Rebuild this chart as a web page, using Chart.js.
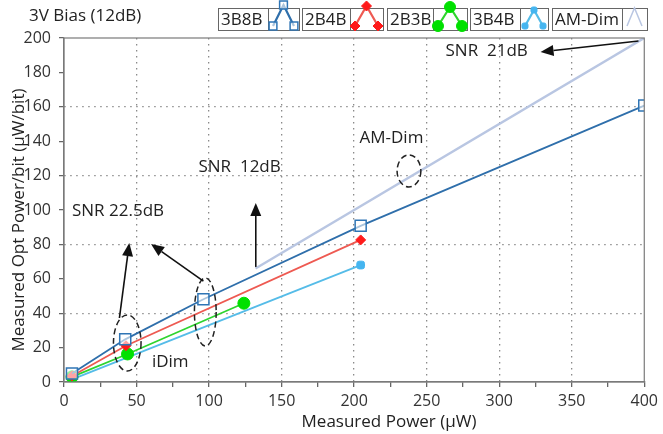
<!DOCTYPE html>
<html><head><meta charset="utf-8">
<script src="https://cdn.jsdelivr.net/npm/chart.js@4.4.0/dist/chart.umd.min.js"></script>
<style>html,body{margin:0;padding:0;background:#fff}#wrap{width:663px;height:434px;position:relative}</style>
</head><body><div id="wrap"><canvas id="c"></canvas></div>
<script>
// ---- data ----
const chartTitle = '3V Bias (12dB)';
const seriesNames = ['3B8B', '2B4B', '2B3B', '3B4B', 'AM-Dim'];
const x3B8B = [5.5, 42.2, 96.1, 204.5, 400];
const y3B8B = [5, 24.8, 48.1, 90.8, 160.7];
const x2B4B = [5.5, 42.7, 204.5];
const y2B4B = [3.5, 21.1, 82.6];
const x2B3B = [5.5, 43.8, 124];
const y2B3B = [3, 16.3, 45.8];
const x3B4B = [5.5, 204.5];
const y3B4B = [1.5, 68];
const xAMDim = [132, 400];
const yAMDim = [66, 200];
const xTicksLabelStep = 50;
const xTitle = 'Measured Power (μW)';
const yTitle = 'Measured Opt Power/bit (μW/bit)';
const annoTexts = [
  {t: 'SNR 22.5dB', x: 5.5, y: 99.4},
  {t: 'SNR  12dB', x: 92.7, y: 125},
  {t: 'AM-Dim', x: 203.7, y: 141.9},
  {t: 'SNR  21dB', x: 263, y: 192.4},
  {t: 'iDim', x: 60.6, y: 11.6}
];
const annoEllipses = [
  {x: 43.6, y: 22.7, rx: 9.5, ry: 16.3},
  {x: 97.4, y: 40.7, rx: 7.5, ry: 19.8},
  {x: 237.8, y: 122.7, rx: 8.2, ry: 9.3}
];
const annoArrows = [
  {x1: 38.2, y1: 37.2, x2: 45, y2: 80.8},
  {x1: 96.1, y1: 58.7, x2: 60, y2: 80.2},
  {x1: 132.2, y1: 66.9, x2: 132.2, y2: 104.1},
  {x1: 396, y1: 198.3, x2: 328.5, y2: 191.9}
];

const pts = (xs, ys) => xs.map((x, i) => ({x, y: ys[i]}));
const FONT = '"Open Sans", "Noto Sans", sans-serif';

const datasets = [
  {label: seriesNames[0], data: pts(x3B8B, y3B8B), borderColor: '#2f6fab', backgroundColor: '#ffffff',
   pointBorderColor: '#2f75b5', pointBackgroundColor: 'rgba(255,255,255,0.6)', pointStyle: 'rect', pointRadius: 7.8, pointBorderWidth: 1.5, borderWidth: 1.8},
  {label: seriesNames[1], data: pts(x2B4B, y2B4B), borderColor: '#ee5a52', backgroundColor: '#ff1a1a',
   pointBorderColor: '#ff1a1a', pointBackgroundColor: '#ff1a1a', pointStyle: 'rectRot', pointRadius: 5, pointBorderWidth: 1, borderWidth: 1.8},
  {label: seriesNames[2], data: pts(x2B3B, y2B3B), borderColor: '#2fd42f', backgroundColor: '#00e000',
   pointBorderColor: '#00e000', pointBackgroundColor: '#00e000', pointStyle: 'circle', pointRadius: 6, pointBorderWidth: 1, borderWidth: 1.8},
  {label: seriesNames[3], data: pts(x3B4B, y3B4B), borderColor: '#55bce8', backgroundColor: '#45b5f0',
   pointBorderColor: '#45b5f0', pointBackgroundColor: '#45b5f0', pointStyle: 'rectRounded', pointRadius: 4.5, pointBorderWidth: 1, borderWidth: 1.8},
  {label: seriesNames[4], data: pts(xAMDim, yAMDim), borderColor: '#b9c6e2', backgroundColor: '#b9c6e2',
   pointRadius: 0, borderWidth: 2.5}
];

// legend layout (pixels): cell left, text width, icon width, icon apex y, marker radius
const legendCells = [
  {x: 218, tw: 50, iw: 31, ay: 5, mr: 5.5},
  {x: 302, tw: 48, iw: 33, ay: 6, mr: 5},
  {x: 387, tw: 46, iw: 34, ay: 7, mr: 5.5},
  {x: 470, tw: 50, iw: 28, ay: 10, mr: 3.5},
  {x: 552, tw: 70, iw: 25, ay: 8, mr: 0}
];

const overlay = {
  id: 'overlay',
  afterDatasetsDraw(chart) {
    const {ctx, chartArea: a, scales: {x, y}} = chart;
    ctx.save();
    ctx.strokeStyle = '#7a7a7a'; ctx.lineWidth = 1.2;
    ctx.strokeRect(a.left, a.top, a.right - a.left, a.bottom - a.top);
    ctx.strokeStyle = '#222'; ctx.lineWidth = 1.5; ctx.setLineDash([6, 3.5]);
    annoEllipses.forEach(e => {
      const cx = x.getPixelForValue(e.x), cy = y.getPixelForValue(e.y);
      const rx = Math.abs(x.getPixelForValue(e.x + e.rx) - cx), ry = Math.abs(y.getPixelForValue(e.y + e.ry) - cy);
      ctx.beginPath(); ctx.ellipse(cx, cy, rx, ry, 0, 0, Math.PI * 2); ctx.stroke();
    });
    ctx.setLineDash([]);
    ctx.fillStyle = '#111'; ctx.strokeStyle = '#111'; ctx.lineWidth = 1.6;
    annoArrows.forEach(r => {
      const x1 = x.getPixelForValue(r.x1), y1 = y.getPixelForValue(r.y1);
      const x2 = x.getPixelForValue(r.x2), y2 = y.getPixelForValue(r.y2);
      const ang = Math.atan2(y2 - y1, x2 - x1), L = 13, W = 5.5;
      const bx = x2 - L * Math.cos(ang), by = y2 - L * Math.sin(ang);
      ctx.beginPath(); ctx.moveTo(x1, y1); ctx.lineTo(bx, by); ctx.stroke();
      ctx.beginPath(); ctx.moveTo(x2, y2);
      ctx.lineTo(bx + W * Math.sin(ang), by - W * Math.cos(ang));
      ctx.lineTo(bx - W * Math.sin(ang), by + W * Math.cos(ang));
      ctx.closePath(); ctx.fill();
    });
    ctx.fillStyle = '#222'; ctx.font = '17px ' + FONT; ctx.textBaseline = 'middle'; ctx.textAlign = 'left';
    annoTexts.forEach(t => ctx.fillText(t.t, x.getPixelForValue(t.x), y.getPixelForValue(t.y)));
    ctx.restore();
  },
  afterDraw(chart) {
    const {ctx} = chart;
    ctx.save();
    ctx.fillStyle = '#222'; ctx.font = '17px ' + FONT; ctx.textBaseline = 'middle'; ctx.textAlign = 'left';
    ctx.fillText(chartTitle, 29, 16);
    // axis titles
    ctx.textAlign = 'center';
    ctx.fillText(xTitle, 389, 422);
    ctx.save(); ctx.translate(19, 220); ctx.rotate(-Math.PI / 2); ctx.fillText(yTitle, 0, 0); ctx.restore();
    ctx.textAlign = 'left';
    const top = 8, h = 22;
    chart.data.datasets.forEach((ds, i) => {
      const c = legendCells[i];
      ctx.strokeStyle = '#666'; ctx.lineWidth = 1;
      ctx.strokeRect(c.x + 0.5, top + 0.5, c.tw + c.iw, h);
      ctx.beginPath(); ctx.moveTo(c.x + c.tw + 0.5, top); ctx.lineTo(c.x + c.tw + 0.5, top + h); ctx.stroke();
      ctx.fillStyle = '#222';
      ctx.fillText(ds.label, c.x + 3, top + h / 2 + 1);
      const ix = c.x + c.tw, xl = ix + 5, xm = ix + c.iw / 2, xr = ix + c.iw - 5;
      const yb = 26, yt = c.ay;
      ctx.strokeStyle = ds.borderColor; ctx.lineWidth = i === 4 ? 1.5 : 2.2;
      ctx.beginPath(); ctx.moveTo(xl, yb); ctx.lineTo(xm, yt); ctx.lineTo(xr, yb); ctx.stroke();
      if (c.mr > 0) {
        ctx.fillStyle = ds.pointBackgroundColor; ctx.strokeStyle = ds.pointBorderColor; ctx.lineWidth = ds.pointBorderWidth;
        [[xl, yb], [xm, yt], [xr, yb]].forEach(p => Chart.helpers.drawPoint(ctx, {pointStyle: ds.pointStyle, radius: c.mr, rotation: 0, borderWidth: ds.pointBorderWidth}, p[0], p[1]));
      }
    });
    ctx.restore();
  }
};

new Chart(document.getElementById('c'), {
  type: 'line',
  data: {datasets},
  options: {
    responsive: true, maintainAspectRatio: false, animation: false,
    layout: {padding: {top: 38, right: 12, left: 0, bottom: 0}},
    plugins: {legend: {display: false}, tooltip: {enabled: false}},
    elements: {line: {tension: 0}},
    scales: {
      x: {
        type: 'linear', min: 0, max: 400,
        afterFit: s => { s.height = 52; },
        ticks: {stepSize: 25, autoSkip: false, maxRotation: 0, padding: 5, color: '#333', font: {family: FONT, size: 16},
          callback: v => (v % xTicksLabelStep === 0 ? v : '')},
        grid: {color: c => (c.tick && c.tick.value % 50 === 0 && c.tick.value > 0 && c.tick.value < 400) ? '#8a8a8a' : 'rgba(0,0,0,0)',
          lineWidth: 1.3, tickColor: '#666', tickLength: 5, drawTicks: true},
        border: {color: '#7a7a7a', width: 1.2, dash: [1.5, 4.5]},
        title: {display: false}
      },
      y: {
        min: 0, max: 200,
        afterFit: s => { s.width = 64; },
        ticks: {stepSize: 20, autoSkip: false, padding: 2, color: '#333', font: {family: FONT, size: 16}},
        grid: {color: c => (c.tick && c.tick.value % 40 === 0 && c.tick.value > 0 && c.tick.value < 200) ? '#8a8a8a' : 'rgba(0,0,0,0)',
          lineWidth: 1.3, tickColor: '#666', tickLength: 11, tickBorderDash: [0, 6, 4, 100], drawTicks: true},
        border: {color: '#7a7a7a', width: 1.2, dash: [1.5, 4.5]},
        title: {display: false}
      }
    }
  },
  plugins: [overlay]
});
</script>
</body></html>
